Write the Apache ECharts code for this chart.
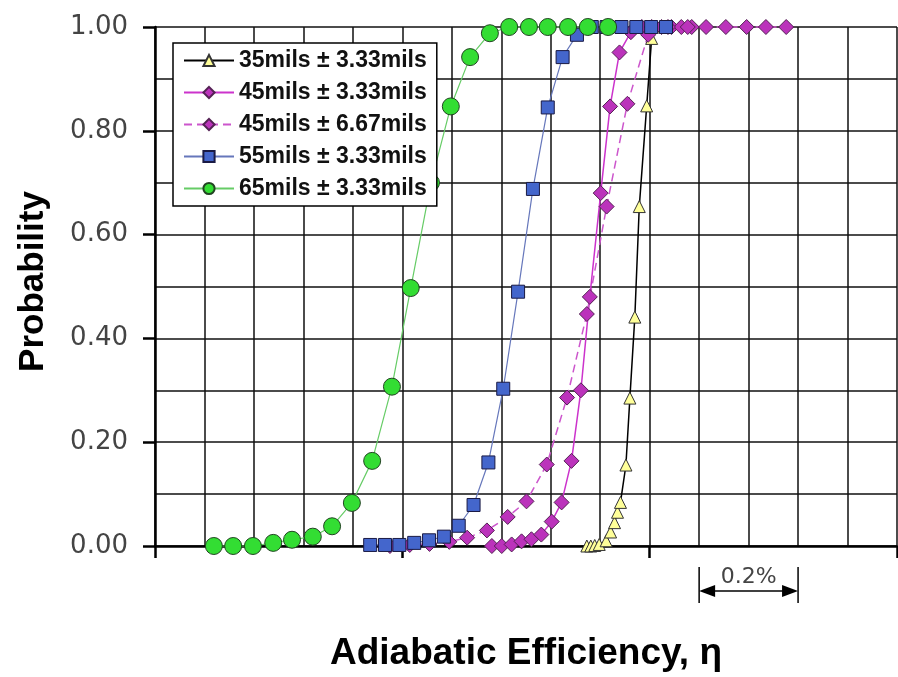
<!DOCTYPE html>
<html>
<head>
<meta charset="utf-8">
<script src="https://cdn.jsdelivr.net/npm/echarts@6/dist/echarts.min.js"></script>
<style>
  html, body { margin: 0; padding: 0; background: #fff; }
  #chart { width: 898px; height: 677px; }
</style>
</head>
<body>
<div id="chart"></div>
<script>
// series names (legend order)
var names = ['35mils ± 3.33mils', '45mils ± 3.33mils', '45mils ± 6.67mils', '55mils ± 3.33mils', '65mils ± 3.33mils'];

// x = efficiency offset in %, y = cumulative probability
var x35 = [0.873, 0.881, 0.889, 0.898, 0.912, 0.921, 0.929, 0.935, 0.941, 0.952, 0.960, 0.970, 0.979, 0.994, 1.004, 1.014];
var y35 = [0.000, 0.000, 0.001, 0.003, 0.010, 0.027, 0.045, 0.065, 0.084, 0.156, 0.285, 0.441, 0.654, 0.848, 0.978, 1.000];

var x45a = [0.681, 0.701, 0.721, 0.741, 0.761, 0.781, 0.802, 0.822, 0.842, 0.861, 0.879, 0.901, 0.920, 0.939, 0.962, 0.984, 1.004, 1.024, 1.044, 1.064, 1.085];
var y45a = [0.000, 0.000, 0.003, 0.009, 0.013, 0.022, 0.047, 0.084, 0.164, 0.300, 0.480, 0.680, 0.847, 0.951, 0.990, 1, 1, 1, 1, 1, 1];

var x45b = [0.475, 0.515, 0.555, 0.595, 0.631, 0.671, 0.713, 0.751, 0.792, 0.833, 0.873, 0.913, 0.955, 0.997, 1.037, 1.077, 1.114, 1.154, 1.196, 1.235, 1.276];
var y45b = [0.000, 0.002, 0.004, 0.008, 0.016, 0.030, 0.056, 0.086, 0.157, 0.286, 0.447, 0.654, 0.852, 0.985, 1, 1, 1, 1, 1, 1, 1];

var x55 = [0.435, 0.465, 0.494, 0.524, 0.554, 0.584, 0.614, 0.644, 0.674, 0.704, 0.734, 0.764, 0.794, 0.824, 0.853, 0.883, 0.913, 0.943, 0.973, 1.003, 1.033];
var y55 = [0.002, 0.002, 0.002, 0.006, 0.011, 0.018, 0.039, 0.079, 0.161, 0.303, 0.490, 0.688, 0.845, 0.942, 0.985, 1, 1, 1, 1, 1, 1];

var x65 = [0.119, 0.158, 0.198, 0.239, 0.277, 0.319, 0.358, 0.398, 0.439, 0.479, 0.517, 0.558, 0.598, 0.637, 0.677, 0.716, 0.756, 0.794, 0.835, 0.875, 0.916];
var y65 = [0.000, 0.000, 0.000, 0.006, 0.012, 0.018, 0.038, 0.083, 0.164, 0.307, 0.497, 0.700, 0.847, 0.942, 0.988, 1, 1, 1, 1, 1, 1];

// scale bar under the axis
var barFrom = 1.1, barTo = 1.3, barLabel = '0.2%';

function pairs(xs, ys) {
    return xs.map(function (x, i) { return [x, ys[i]]; });
}

var chart = echarts.init(document.getElementById('chart'), null, { renderer: 'canvas' });

var option = {
    backgroundColor: '#fff',
    animation: false,
    grid: { left: 155, right: 1, top: 27, bottom: 129 },
    legend: {
        orient: 'vertical',
        left: 173,
        top: 43,
        selectedMode: false,
        backgroundColor: '#fff',
        borderColor: '#000',
        borderWidth: 1.5,
        borderRadius: 0,
        padding: [6, 10, 6, 10],
        itemGap: 9,
        itemWidth: 50,
        itemHeight: 14,
        z: 10,
        textStyle: {
            fontFamily: 'Liberation Sans',
            fontWeight: 'bold',
            fontSize: 23,
            lineHeight: 22,
            color: '#111'
        },
        data: names
    },
    xAxis: {
        type: 'value',
        min: 0,
        max: 1.5,
        interval: 0.5,
        name: 'Adiabatic Efficiency, η',
        nameLocation: 'middle',
        nameGap: 89,
        nameTextStyle: {
            fontFamily: 'Liberation Sans',
            fontWeight: 'bold',
            fontSize: 37,
            color: '#000'
        },
        axisLine: { lineStyle: { color: '#000', width: 2.5 } },
        axisTick: { show: true, length: 12, lineStyle: { color: '#000', width: 2.5 } },
        axisLabel: { show: false },
        splitLine: { show: true, lineStyle: { color: '#111', width: 1.5 } },
        minorTick: { show: false, splitNumber: 5 },
        minorSplitLine: { show: true, lineStyle: { color: '#111', width: 1.5 } }
    },
    yAxis: {
        type: 'value',
        min: 0,
        max: 1,
        interval: 0.2,
        name: 'Probability',
        nameLocation: 'middle',
        nameRotate: 90,
        nameGap: 104,
        nameTextStyle: {
            fontFamily: 'Liberation Sans',
            fontWeight: 'bold',
            fontSize: 35,
            color: '#000',
            padding: [0, 0, 0, 10]
        },
        axisLine: { show: true, lineStyle: { color: '#000', width: 2.5 } },
        axisTick: { show: true, length: 12, lineStyle: { color: '#000', width: 2.5 } },
        axisLabel: {
            margin: 27,
            fontFamily: 'DejaVu Sans',
            fontSize: 26,
            color: '#444',
            formatter: function (v) { return v.toFixed(2); }
        },
        splitLine: { show: true, lineStyle: { color: '#111', width: 1.5 } },
        minorTick: { show: false, splitNumber: 2 },
        minorSplitLine: { show: true, lineStyle: { color: '#111', width: 1.5 } }
    },
    series: [
        {
            name: names[0],
            type: 'line',
            data: pairs(x35, y35),
            clip: false,
            symbol: 'triangle',
            symbolSize: 12,
            itemStyle: { color: '#ffff99', borderColor: '#333', borderWidth: 1 },
            lineStyle: { color: '#000', width: 1.5 }
        },
        {
            name: names[1],
            type: 'line',
            data: pairs(x45a, y45a),
            clip: false,
            symbol: 'diamond',
            symbolSize: 15,
            itemStyle: { color: '#bb33bb', borderColor: '#552255', borderWidth: 1 },
            lineStyle: { color: '#cc33cc', width: 1.5 }
        },
        {
            name: names[2],
            type: 'line',
            data: pairs(x45b, y45b),
            clip: false,
            symbol: 'diamond',
            symbolSize: 15,
            itemStyle: { color: '#bb33bb', borderColor: '#552255', borderWidth: 1 },
            lineStyle: { color: '#cc55cc', width: 1.5, type: [8, 5] }
        },
        {
            name: names[3],
            type: 'line',
            data: pairs(x55, y55),
            clip: false,
            symbol: 'rect',
            symbolSize: 13,
            itemStyle: { color: '#4466cc', borderColor: '#1a1a44', borderWidth: 1 },
            lineStyle: { color: '#6677bb', width: 1.2 }
        },
        {
            name: names[4],
            type: 'line',
            data: pairs(x65, y65),
            clip: false,
            symbol: 'circle',
            symbolSize: 17,
            itemStyle: { color: '#33dd33', borderColor: '#224422', borderWidth: 1 },
            lineStyle: { color: '#66cc66', width: 1.2 }
        }
    ]
};

chart.setOption(option);

// scale bar drawn from axis positions
var p1 = chart.convertToPixel({ xAxisIndex: 0 }, barFrom);
var p2 = chart.convertToPixel({ xAxisIndex: 0 }, barTo);
var ay = 591;
chart.setOption({
    graphic: [
        { type: 'line', shape: { x1: p1, y1: 567, x2: p1, y2: 603 }, style: { stroke: '#000', lineWidth: 1.5 } },
        { type: 'line', shape: { x1: p2, y1: 567, x2: p2, y2: 603 }, style: { stroke: '#000', lineWidth: 1.5 } },
        { type: 'line', shape: { x1: p1 + 10, y1: ay, x2: p2 - 10, y2: ay }, style: { stroke: '#000', lineWidth: 1.5 } },
        { type: 'polygon', shape: { points: [[p1, ay], [p1 + 16, ay - 6], [p1 + 16, ay + 6]] }, style: { fill: '#000' } },
        { type: 'polygon', shape: { points: [[p2, ay], [p2 - 16, ay - 6], [p2 - 16, ay + 6]] }, style: { fill: '#000' } },
        {
            type: 'text',
            x: (p1 + p2) / 2,
            y: 577,
            style: {
                text: barLabel,
                align: 'center',
                verticalAlign: 'middle',
                font: '22px "DejaVu Sans"',
                fill: '#444'
            }
        }
    ]
});
</script>
</body>
</html>
